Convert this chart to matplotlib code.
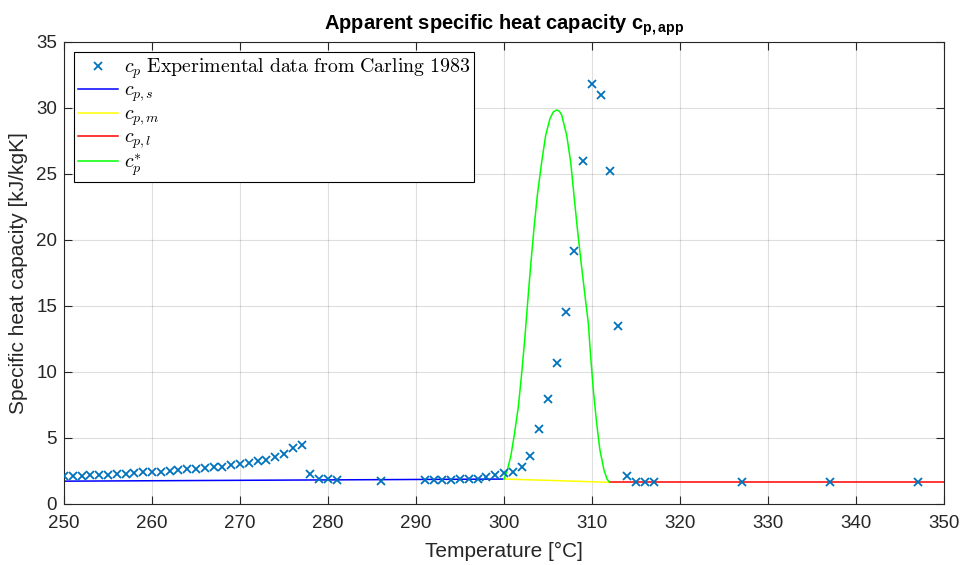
import matplotlib
matplotlib.use("Agg")
import matplotlib.pyplot as plt
import numpy as np

# Experimental data (Carling 1983)
exp_T = list(range(250, 278)) + [278, 279, 280, 281, 286] + list(range(291, 318)) + [327, 337, 347]
exp_cp = [2.11, 2.11, 2.13, 2.16, 2.18, 2.21, 2.26, 2.28, 2.33, 2.39,
          2.41, 2.46, 2.51, 2.56, 2.62, 2.67, 2.74, 2.79, 2.84, 2.92,
          3.02, 3.12, 3.22, 3.35, 3.55, 3.81, 4.21, 4.49,
          2.28, 1.93, 1.87, 1.84, 1.78,
          1.80, 1.80, 1.83, 1.83, 1.88, 1.88, 1.93, 2.07, 2.21, 2.33,
          2.46, 2.79, 3.60, 5.69, 7.92, 10.66, 14.57, 19.19, 26.0, 31.8,
          31.0, 25.2, 13.45, 2.10, 1.70, 1.70, 1.68,
          1.67, 1.67, 1.67]

# Model curves
s_T = [250, 275, 300]
s_cp = [1.73, 1.81, 1.89]
m_T = [300, 306, 312]
m_cp = [1.89, 1.77, 1.64]
l_T = [312, 330, 350]
l_cp = [1.64, 1.64, 1.64]
star_T = [300.0, 300.38, 300.76, 301.14, 301.63, 302.01, 302.35, 302.65, 302.8,
          303.07, 303.41, 303.79, 304.28, 304.74, 305.23, 305.6, 305.98, 306.3, 306.55,
          307.12, 307.58, 307.95, 308.33, 308.75, 309.2, 309.58, 309.85, 310.15,
          310.53, 310.9, 311.36, 311.7, 312.0]
star_cp = [1.89, 2.58, 3.58, 5.10, 7.37, 9.9, 12.42, 14.95, 16.2,
           18.36, 20.9, 23.4, 25.9, 27.95, 29.2, 29.7, 29.85, 29.75, 29.47,
           27.95, 25.9, 23.4, 20.9, 18.36, 15.8, 13.7, 11.16, 8.64,
           6.11, 4.09, 2.58, 1.9, 1.64]

xticks = list(range(250, 351, 10))
yticks = list(range(0, 36, 5))

plt.rcParams['mathtext.fontset'] = 'cm'
plt.rcParams['mathtext.rm'] = 'Liberation Sans'
plt.rcParams['mathtext.bf'] = 'Liberation Sans:bold'
plt.rcParams['mathtext.it'] = 'Liberation Sans:italic'
plt.rcParams['font.family'] = ['Liberation Sans', 'DejaVu Sans']

fig = plt.figure(figsize=(9.63, 5.65), dpi=100)
ax = fig.add_axes([64/963, 61/565, 880/963, 462/565])

grey = (0.15, 0.15, 0.15)
mblue = (0.0, 0.447, 0.741)
ax.plot(exp_T, exp_cp, 'x', color=mblue, ms=5.5, mew=1.3,
        label=r'$c_p\ \mathrm{Experimental\ data\ from\ Carling\ 1983}$', zorder=5)
ax.plot(s_T, s_cp, '-', color='#0000ff', lw=1.1, label=r'$c_{p,s}$')
ax.plot(m_T, m_cp, '-', color='#ffff00', lw=1.1, label=r'$c_{p,m}$')
ax.plot(l_T, l_cp, '-', color='#ff0000', lw=1.1, label=r'$c_{p,l}$')
ax.plot(star_T, star_cp, '-', color='#00ff00', lw=1.1, label=r'$c_p^{*}$')

ax.set_xlim(250, 350)
ax.set_ylim(0, 35)
ax.set_xticks(xticks)
ax.set_yticks(yticks)
ax.grid(True, color=grey, alpha=0.15, lw=0.8)
ax.set_axisbelow(True)
ax.tick_params(direction='in', top=True, right=True, labelsize=13.5,
               colors=grey, length=6, width=0.8)
ax.tick_params(axis='x', pad=8)
ax.tick_params(axis='y', pad=5)
for sp in ax.spines.values():
    sp.set_color(grey)
    sp.set_linewidth(0.8)

ax.set_xlabel('Temperature [°C]', fontsize=15, color=grey, labelpad=7)
ax.set_ylabel('Specific heat capacity [kJ/kgK]', fontsize=15, color=grey, labelpad=6)
ax.set_title(r'Apparent specific heat capacity c$_{\mathbf{p,app}}$', fontsize=14.5,
             fontweight='bold', pad=9, math_fontfamily='custom')

leg = ax.legend(loc='upper left', bbox_to_anchor=(0.011, 0.978), borderaxespad=0,
                fontsize=14.3, fancybox=False, framealpha=1, edgecolor='black',
                handlelength=2.0, handletextpad=0.3, labelspacing=0.0,
                borderpad=0.22)
leg.get_frame().set_linewidth(0.8)

fig.savefig('out.png', dpi=100)
